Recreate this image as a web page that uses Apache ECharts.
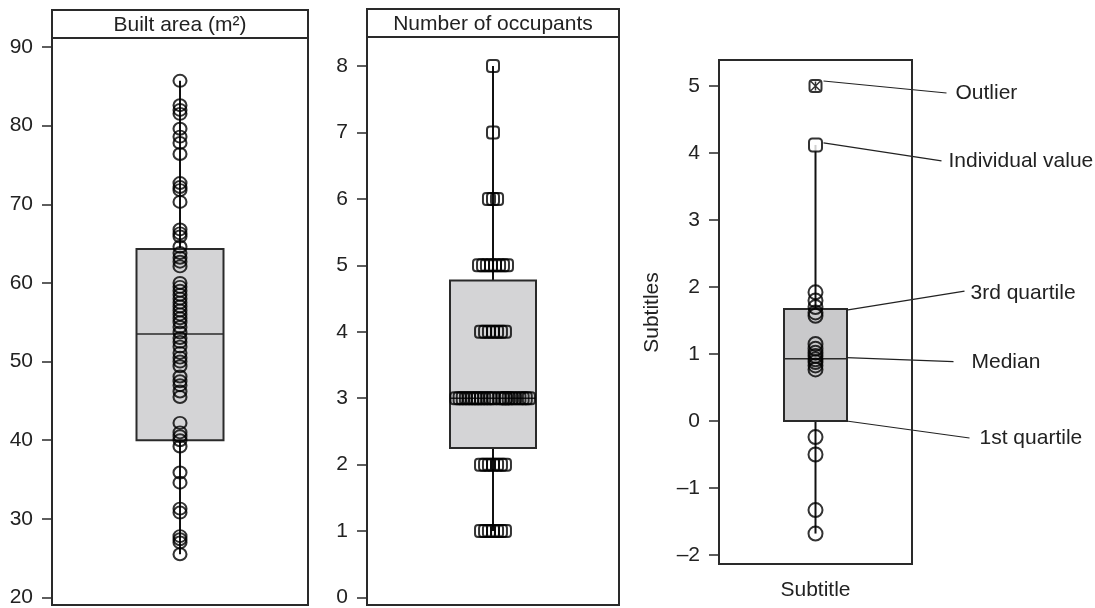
<!DOCTYPE html>
<html><head><meta charset="utf-8">
<script src="https://cdn.jsdelivr.net/npm/echarts@6/dist/echarts.min.js"></script>
<style>html,body{margin:0;padding:0;background:#fff}#c{width:1095px;height:608px}</style>
</head><body><div id="c"></div>
<script>
// ---------- data ----------
const panelTitles = ['Built area (m\u00B2)', 'Number of occupants'];
const builtArea = [85.7, 82.6, 82.0, 81.5, 79.6, 78.6, 77.8, 76.4, 72.7, 72.2, 71.8, 70.3,
  66.8, 66.3, 65.9, 64.6, 63.8, 63.2, 62.7, 62.1, 60.0, 59.5, 59.0, 58.5, 58.0, 57.5, 57.0,
  56.5, 56.0, 55.5, 55.0, 54.4, 53.7, 53.0, 52.5, 51.9, 51.1, 50.5, 50.0, 49.4, 48.1, 47.5,
  47.0, 46.2, 45.5, 42.2, 41.0, 40.5, 40.0, 39.2, 35.9, 34.6, 31.3, 30.8, 27.8, 27.4, 27.0, 25.5];
const builtStats = [25.5, 40.0, 53.5, 64.3, 85.7];          // min, Q1, median, Q3, max
const occValues = [8, 7, 6, 6, 6,
  5, 5, 5, 5, 5, 5, 5, 5,
  4, 4, 4, 4, 4, 4, 4,
  3, 3, 3, 3, 3, 3, 3, 3, 3, 3, 3, 3, 3, 3, 3, 3, 3, 3, 3, 3, 3, 3, 3, 3,
  2, 2, 2, 2, 2, 2, 2,
  1, 1, 1, 1, 1, 1, 1];
const occJitter = [0, 0, -0.032, 0, 0.032,
  -0.111, -0.079, -0.048, -0.016, 0.016, 0.048, 0.079, 0.111,
  -0.095, -0.063, -0.032, 0, 0.032, 0.063, 0.095,
  -0.29, -0.265, -0.24, -0.215, -0.19, -0.165, -0.12, -0.095, -0.07, -0.045, -0.02, 0.005,
  0.05, 0.075, 0.1, 0.125, 0.15, 0.175, 0.21, 0.235, 0.26, 0.285, 0.1, -0.14,
  -0.095, -0.063, -0.032, 0, 0.032, 0.063, 0.095,
  -0.095, -0.063, -0.032, 0, 0.032, 0.063, 0.095];
const occStats = [1, 2.25, 3, 4.77, 8];
const subValues = [1.92, 1.8, 1.7, 1.62, 1.57, 1.15, 1.08, 1.02, 0.97, 0.92, 0.88,
  0.83, 0.77, -0.24, -0.5, -1.33, -1.68];
const subSingles = [4.12];
const subOutliers = [5.0];
const subStats = [-1.68, 0, 0.93, 1.67, 4.12];
const annotLabels = ['Outlier', 'Individual value', '3rd quartile', 'Median', '1st quartile'];
const annotValues = [5.0, 4.12, 1.67, 0.93, 0];
const yRanges = [[20, 90, 10], [0, 8, 1], [-2, 5, 1]];   // min, max, tick step
const subYName = 'Subtitles';
const subXName = 'Subtitle';

// ---------- layout / style ----------
const FONT = "'Liberation Sans', Arial, Helvetica, sans-serif";
const TXT = '#222';
const LINE = '#2a2a2a';
const frames = [
  {x: 52, y: 38, w: 256, h: 567, head: 28},
  {x: 367, y: 37, w: 252, h: 568, head: 28},
  {x: 719, y: 60, w: 193, h: 504, head: 0}
];
const grids = [
  {left: 52, width: 256, top: 47, height: 551},
  {left: 367, width: 252, top: 66, height: 533},
  {left: 719, width: 193, top: 86, height: 469}
];
const boxWidths = [87, 86, 63];
const boxFills = ['#d4d4d6', '#d4d4d6', '#c9c9cb'];
const annotOffsets = [
  {s: [8, -5], e: [131, 7], t: [140, 7]},
  {s: [8, -2], e: [126, 16], t: [133, 16]},
  {s: [31, 1], e: [149, -18], t: [155, -16]},
  {s: [31, -1], e: [138, 3], t: [156, 4]},
  {s: [31, 0], e: [154, 17], t: [164, 17]}
];

function boxRender(idx) {
  return function (params, api) {
    const x = api.value(0);
    const lo = api.coord([x, api.value(1)]);
    const q1 = api.coord([x, api.value(2)]);
    const md = api.coord([x, api.value(3)]);
    const q3 = api.coord([x, api.value(4)]);
    const hi = api.coord([x, api.value(5)]);
    const w = boxWidths[idx], h = w / 2, cx = q1[0];
    const st = {stroke: '#111', lineWidth: 2};
    return {type: 'group', children: [
      {type: 'line', shape: {x1: cx, y1: q3[1], x2: cx, y2: hi[1]}, style: st},
      {type: 'line', shape: {x1: cx, y1: q1[1], x2: cx, y2: lo[1]}, style: st},
      {type: 'rect', shape: {x: cx - h, y: q3[1], width: w, height: q1[1] - q3[1]},
        style: {fill: boxFills[idx], stroke: LINE, lineWidth: 2}},
      {type: 'line', shape: {x1: cx - h, y1: md[1], x2: cx + h, y2: md[1]}, style: {stroke: LINE, lineWidth: 1.6}}
    ]};
  };
}

function annotRender(params, api) {
  const i = api.value(2);
  const p = api.coord([api.value(0), api.value(1)]);
  const o = annotOffsets[i];
  return {type: 'group', children: [
    {type: 'line', shape: {x1: p[0] + o.s[0], y1: p[1] + o.s[1], x2: p[0] + o.e[0], y2: p[1] + o.e[1]},
      style: {stroke: '#222', lineWidth: 1.2}},
    {type: 'text', x: p[0] + o.t[0], y: p[1] + o.t[1],
      style: {text: annotLabels[i], fill: TXT, font: '21px ' + FONT, textAlign: 'left', textVerticalAlign: 'middle'}}
  ]};
}

const yAxes = yRanges.map((r, i) => ({
  gridIndex: i, type: 'value', min: r[0], max: r[1], interval: r[2], position: 'left',
  axisLine: {show: false, onZero: false},
  axisTick: {show: true, length: 10, lineStyle: {color: LINE, width: 1.5}},
  splitLine: {show: false},
  axisLabel: {margin: 19, color: TXT, fontSize: 21, fontFamily: FONT,
    formatter: v => String(v).replace('-', '\u2013')},
  name: i === 2 ? subYName : '', nameLocation: 'middle', nameGap: 56,
  nameTextStyle: {color: TXT, fontSize: 21, fontFamily: FONT, padding: [0, 0, 0, 16]}
}));
const xAxes = [0, 1, 2].map(i => ({
  gridIndex: i, type: 'value', min: -1, max: 1, position: 'bottom',
  axisLine: {show: false, onZero: false}, axisTick: {show: false}, axisLabel: {show: false}, splitLine: {show: false},
  name: i === 2 ? subXName : '', nameLocation: 'middle', nameGap: 25,
  nameTextStyle: {color: TXT, fontSize: 21, fontFamily: FONT}
}));

const graphics = [];
frames.forEach((f, i) => {
  if (f.head) {
    graphics.push({type: 'rect', shape: {x: f.x, y: f.y - f.head, width: f.w, height: f.head},
      style: {fill: '#fff', stroke: LINE, lineWidth: 2}, z: 10});
    graphics.push({type: 'text', x: f.x + f.w / 2, y: f.y - f.head / 2 + 1,
      style: {text: panelTitles[i], fill: TXT, font: '21px ' + FONT, textAlign: 'center', textVerticalAlign: 'middle'}, z: 11});
  }
  graphics.push({type: 'rect', shape: {x: f.x, y: f.y, width: f.w, height: f.h},
    style: {fill: 'none', stroke: LINE, lineWidth: 2}, z: 10});
});

const pointStyle = {color: 'rgba(0,0,0,0)', borderColor: '#000', borderWidth: 2};

const option = {
  animation: false,
  backgroundColor: '#fff',
  grid: grids.map(g => Object.assign({containLabel: false}, g)),
  xAxis: xAxes,
  yAxis: yAxes,
  graphic: graphics,
  series: [
    {type: 'custom', xAxisIndex: 0, yAxisIndex: 0, renderItem: boxRender(0),
      data: [[0].concat(builtStats)], encode: {x: 0, y: [1, 2, 3, 4, 5]}, z: 1},
    {type: 'custom', xAxisIndex: 1, yAxisIndex: 1, renderItem: boxRender(1),
      data: [[0].concat(occStats)], encode: {x: 0, y: [1, 2, 3, 4, 5]}, z: 1},
    {type: 'custom', xAxisIndex: 2, yAxisIndex: 2, renderItem: boxRender(2),
      data: [[0].concat(subStats)], encode: {x: 0, y: [1, 2, 3, 4, 5]}, z: 1},
    {type: 'scatter', xAxisIndex: 0, yAxisIndex: 0, symbol: 'circle', symbolSize: [13, 12],
      clip: false, itemStyle: pointStyle, data: builtArea.map(v => [0, v]), z: 3},
    {type: 'scatter', xAxisIndex: 1, yAxisIndex: 1, symbol: 'roundRect', symbolSize: [12, 12],
      clip: false, itemStyle: pointStyle, data: occValues.map((v, i) => [occJitter[i], v]), z: 3},
    {type: 'scatter', xAxisIndex: 2, yAxisIndex: 2, symbol: 'circle', symbolSize: 14,
      clip: false, itemStyle: pointStyle, data: subValues.map(v => [0, v]), z: 3},
    {type: 'scatter', xAxisIndex: 2, yAxisIndex: 2, symbol: 'roundRect', symbolSize: 13,
      clip: false, itemStyle: {color: '#fff', borderColor: '#000', borderWidth: 2}, data: subSingles.map(v => [0, v]), z: 3},
    {type: 'scatter', xAxisIndex: 2, yAxisIndex: 2, symbol: 'roundRect', symbolSize: 12,
      clip: false, itemStyle: pointStyle, data: subOutliers.map(v => [0, v]), z: 3},
    {type: 'scatter', xAxisIndex: 2, yAxisIndex: 2, symbol: 'path://M0,0L10,10M10,0L0,10M5,0L5,10', symbolSize: 9,
      clip: false, itemStyle: {color: 'none', borderColor: '#000', borderWidth: 1.5}, data: subOutliers.map(v => [0, v]), z: 4},
    {type: 'custom', xAxisIndex: 2, yAxisIndex: 2, renderItem: annotRender, clip: false,
      data: annotValues.map((v, i) => [0, v, i]), encode: {x: 0, y: 1}, z: 5}
  ]
};

const chart = echarts.init(document.getElementById('c'), null, {renderer: 'canvas'});
chart.setOption(option);
</script>
</body></html>
